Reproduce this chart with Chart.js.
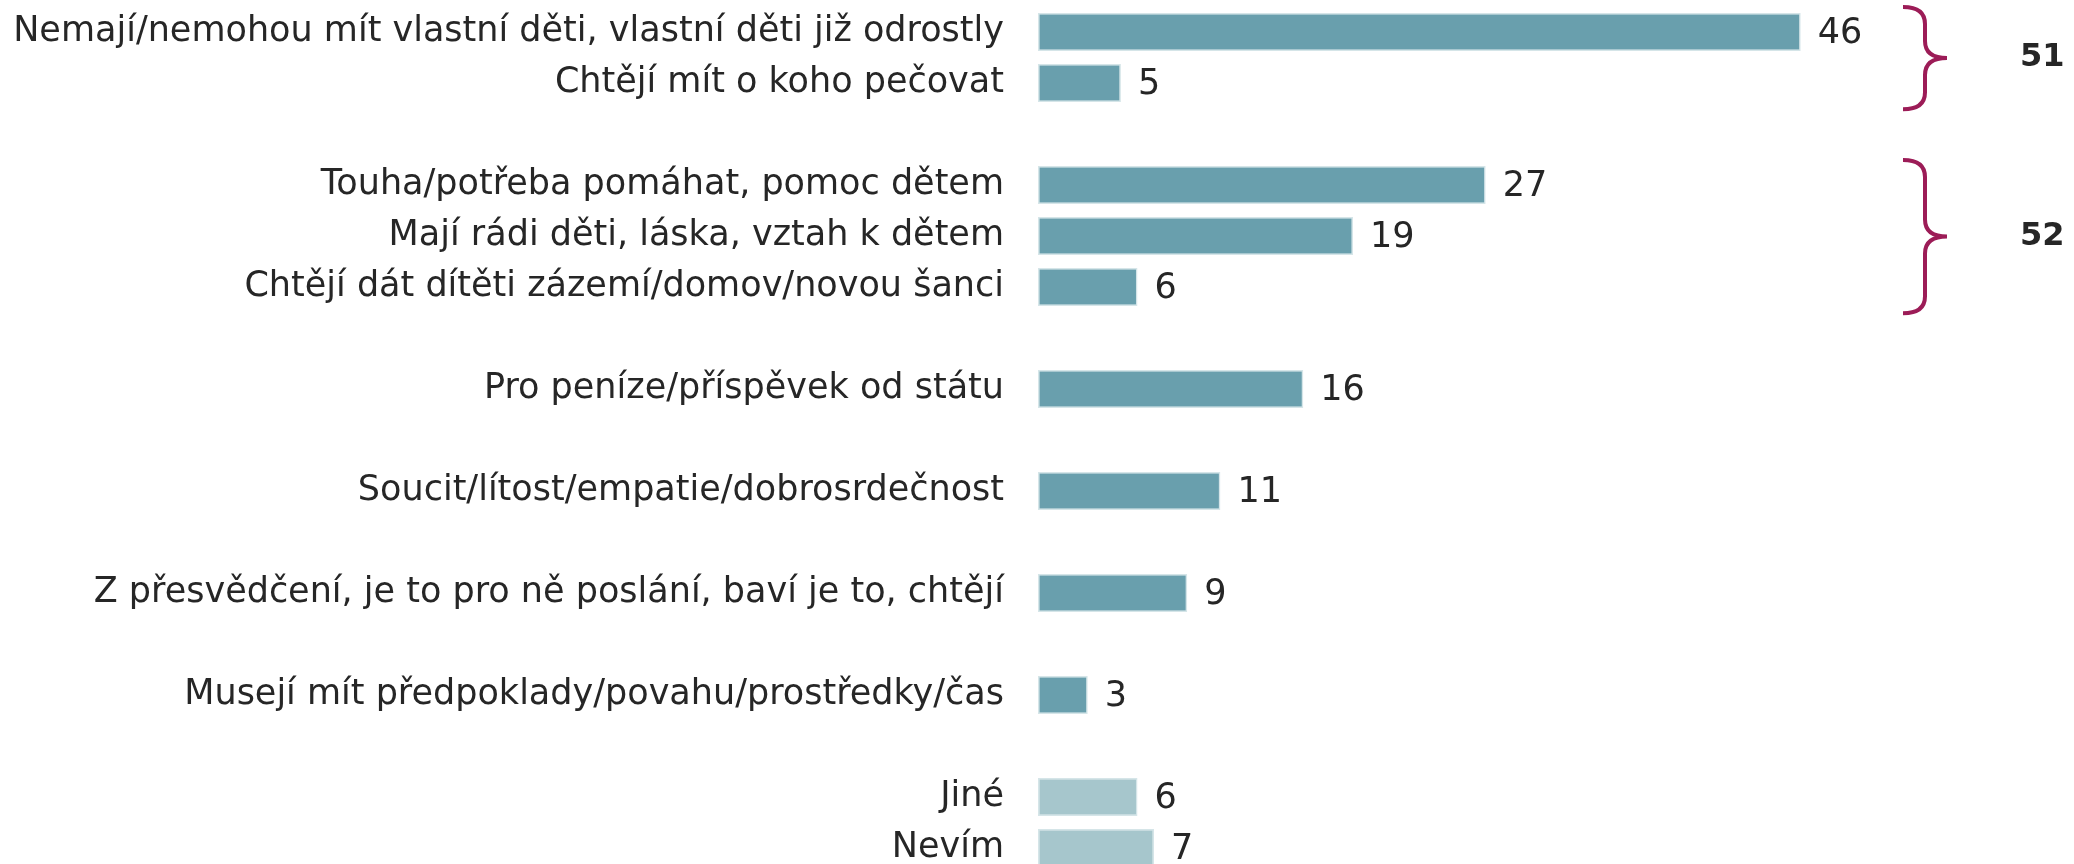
<!DOCTYPE html>
<html>
<head>
<meta charset="utf-8">
<script src="https://cdn.jsdelivr.net/npm/chart.js@4"></script>
<style>
	html, body { margin: 0; padding: 0; background: #fff; overflow: hidden; }
	#wrap { width: 2074px; height: 864px; overflow: hidden; }
</style>
</head>
<body>
<div id="wrap"><canvas id="firstChart" width="2074" height="880"></canvas></div>
<script>
// categories ('' = empty spacer row between groups)
let categories = [
	'Nemají/nemohou mít vlastní děti, vlastní děti již odrostly',
	'Chtějí mít o koho pečovat',
	'',
	'Touha/potřeba pomáhat, pomoc dětem',
	'Mají rádi děti, láska, vztah k dětem',
	'Chtějí dát dítěti zázemí/domov/novou šanci',
	'',
	'Pro peníze/příspěvek od státu',
	'',
	'Soucit/lítost/empatie/dobrosrdečnost',
	'',
	'Z přesvědčení, je to pro ně poslání, baví je to, chtějí',
	'',
	'Musejí mít předpoklady/povahu/prostředky/čas',
	'',
	'Jiné',
	'Nevím'
];
let values = [46, 5, null, 27, 19, 6, null, 16, null, 11, null, 9, null, 3, null, 6, 7];
let otherCats = ['Jiné', 'Nevím'];

// brace groups: first row, last row, total
let groupFrom = [0, 3];
let groupTo = [1, 5];
let groupTotals = [51, 52];

let textColor = '#262626';
let braceColor = '#9c1c57';

let barColors = categories.map(function(c) {
	return otherCats.includes(c) ? '#a6c6cc' : '#699fad';
});

let valueLabels = {
	id: 'valueLabels',
	afterDatasetsDraw(chart) {
		let ctx = chart.ctx;
		let meta = chart.getDatasetMeta(0);
		ctx.save();
		ctx.font = '35px "DejaVu Sans"';
		ctx.fillStyle = textColor;
		ctx.textAlign = 'left';
		ctx.textBaseline = 'middle';
		meta.data.forEach(function(bar, i) {
			if (values[i] == null) return;
			ctx.fillText(values[i], bar.x + 17, bar.y + 2);
		});
		ctx.restore();
	}
};

let braces = {
	id: 'braces',
	afterDraw(chart) {
		let ctx = chart.ctx;
		let y = chart.scales.y;
		let step = y.getPixelForValue(1) - y.getPixelForValue(0);
		let x0 = 1903, xm = 1925, xt = 1947, r = 17;
		ctx.save();
		for (let g = 0; g < groupFrom.length; g++) {
			let top = y.getPixelForValue(groupFrom[g]) - step * 0.375 - 6;
			let bot = y.getPixelForValue(groupTo[g]) + step * 0.375 + 7;
			let mid = (top + bot) / 2;
			ctx.beginPath();
			ctx.moveTo(x0, top);
			ctx.quadraticCurveTo(xm, top, xm, top + r);
			ctx.lineTo(xm, mid - r);
			ctx.quadraticCurveTo(xm, mid, xt, mid);
			ctx.quadraticCurveTo(xm, mid, xm, mid + r);
			ctx.lineTo(xm, bot - r);
			ctx.quadraticCurveTo(xm, bot, x0, bot);
			ctx.strokeStyle = braceColor;
			ctx.lineWidth = 4;
			ctx.stroke();

			ctx.font = 'bold 32px "DejaVu Sans"';
			ctx.fillStyle = textColor;
			ctx.textAlign = 'left';
			ctx.textBaseline = 'middle';
			ctx.fillText(groupTotals[g], 2020, mid);
		}
		ctx.restore();
	}
};

let ctx = document.getElementById('firstChart');
new Chart(ctx, {
	type: 'bar',
	data: {
		labels: categories,
		datasets: [{
			data: values,
			backgroundColor: barColors,
			borderColor: '#d5e5e8',
			borderWidth: 1.5,
			borderSkipped: false,
			barPercentage: 0.745,
			categoryPercentage: 1,
		}],
	},
	options: {
		indexAxis: 'y',
		responsive: false,
		animation: false,
		devicePixelRatio: 1,
		layout: { padding: { top: 6.5, bottom: 6.5, left: 0, right: 8 } },
		plugins: {
			legend: { display: false },
			tooltip: { enabled: false },
		},
		scales: {
			x: {
				display: false,
				min: 0,
				max: 62,
			},
			y: {
				grid: { display: false, drawTicks: false },
				border: { display: false },
				afterFit: function(scale) {
					scale.width = 1038;
					scale.paddingTop = 0;
					scale.paddingBottom = 0;
				},
				ticks: {
					autoSkip: false,
					padding: 34,
					color: textColor,
					font: { family: 'DejaVu Sans', size: 35 },
				},
			},
		},
	},
	plugins: [valueLabels, braces],
});
</script>
</body>
</html>
